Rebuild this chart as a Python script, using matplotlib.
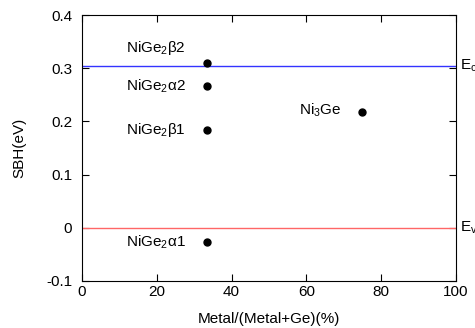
import numpy as np
import matplotlib.pyplot as plt

plt.rcParams['font.family'] = ['Liberation Sans', 'DejaVu Sans']
plt.rcParams['mathtext.fontset'] = 'custom'
plt.rcParams['mathtext.rm'] = 'Liberation Sans'
plt.rcParams['mathtext.it'] = 'Liberation Sans'

# data
names = ["NiGe$_2$β2", "NiGe$_2$α2", "NiGe$_2$β1", "NiGe$_2$α1", "Ni$_3$Ge"]
metal_pct = [33.3, 33.3, 33.3, 33.3, 75.0]
sbh = [0.31, 0.267, 0.183, -0.027, 0.218]
label_dy = [0.028, 0.0, 0.0, 0.0, 0.003]
Ec = 0.305
Ev = 0.0

fig = plt.figure(figsize=(4.75, 3.28), dpi=100)
ax = fig.add_axes([0.1726, 0.1433, 0.7874, 0.8107])

ax.axhline(Ec, color='#3333ff', lw=1)
ax.axhline(Ev, color='#ff6666', lw=1)
ax.plot(metal_pct, sbh, 'o', color='black', markersize=5, clip_on=False)

for n, x, y, dy in zip(names, metal_pct, sbh, label_dy):
    ax.annotate(n, (x, y + dy), xytext=(-15, 0), textcoords='offset points',
                ha='right', va='center', fontsize=11)

# band edge labels sit just past the right spine (cut by the edge, as in the original)
ax.text(1.01, Ec, "E$_c$", transform=ax.get_yaxis_transform(), fontsize=11,
        va='center', ha='left', clip_on=False)
ax.text(1.01, Ev, "E$_v$", transform=ax.get_yaxis_transform(), fontsize=11,
        va='center', ha='left', clip_on=False)

ax.set_xlim(0, 100)
ax.set_ylim(-0.1, 0.4)
ax.set_xticks([0, 20, 40, 60, 80, 100])
ax.set_yticks([-0.1, 0, 0.1, 0.2, 0.3, 0.4])
ax.set_yticklabels(["-0.1", "0", "0.1", "0.2", "0.3", "0.4"])
ax.tick_params(direction='in', top=True, right=True, labelsize=11, length=5)
ax.tick_params(axis='x', pad=3)
ax.tick_params(axis='y', pad=7)
ax.set_xlabel("Metal/(Metal+Ge)(%)", fontsize=11, labelpad=9)
ax.set_ylabel("SBH(eV)", fontsize=11, labelpad=14)

fig.savefig("out.png", dpi=100)
